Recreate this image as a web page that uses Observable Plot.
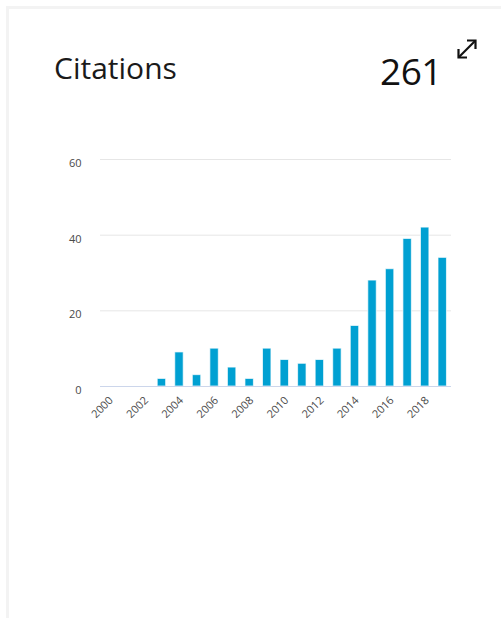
<!DOCTYPE html>
<html>
<head>
<meta charset="utf-8">
<script src="https://cdn.jsdelivr.net/npm/d3@7"></script>
<script src="https://cdn.jsdelivr.net/npm/@observablehq/plot@0.6"></script>
<style>
  html, body { margin: 0; padding: 0; background: #ffffff; }
  body { width: 501px; height: 618px; position: relative; overflow: hidden; font-family: "Open Sans", "Noto Sans", sans-serif; }
  .card { position: absolute; left: 6px; top: 6px; width: 520px; height: 640px; border-left: 3px solid #f3f3f3; border-top: 3px solid #f3f3f3; background: #fff; }
  .title { position: absolute; left: 54px; top: 48px; font-size: 30px; color: #1a1a1a; line-height: 40px; }
  .total { position: absolute; left: 380px; top: 47px; font-size: 37px; color: #111; line-height: 48px; letter-spacing: -0.5px; }
  .expand { position: absolute; left: 455px; top: 37px; }
  #chart { position: absolute; left: 0; top: 0; }
</style>
</head>
<body>
<div class="card"></div>
<div class="title">Citations</div>
<div class="total" id="total"></div>
<svg class="expand" width="24" height="24" viewBox="0 0 24 24" fill="none" stroke="#111" stroke-width="2.2">
  <path d="M4 20 L20 4"/>
  <path d="M12 3.5 H20.5 V12"/>
  <path d="M3.5 12 V20.5 H12"/>
</svg>
<div id="chart"></div>
<script>
// Citations received per year
const years = [2000, 2001, 2002, 2003, 2004, 2005, 2006, 2007, 2008, 2009,
               2010, 2011, 2012, 2013, 2014, 2015, 2016, 2017, 2018, 2019];
const citations = [0, 0, 0, 2, 9, 3, 10, 5, 2, 10,
                   7, 6, 7, 10, 16, 28, 31, 39, 42, 34];
const yTicks = [0, 20, 40, 60];
const xTickYears = [2000, 2002, 2004, 2006, 2008, 2010, 2012, 2014, 2016, 2018];

const rows = years.map((year, i) => ({year, count: citations[i]}));

document.getElementById("total").textContent = d3.sum(citations);

const chart = Plot.plot({
  width: 501,
  height: 440,
  marginTop: 159,
  marginBottom: 54,
  marginLeft: 100,
  marginRight: 50,
  style: {fontFamily: "'Open Sans', 'Noto Sans', sans-serif", fontSize: "11px", color: "#4a4a4a", background: "transparent"},
  x: {type: "band", domain: years, paddingInner: 0.52, paddingOuter: 0.26, round: false},
  y: {domain: [0, 60]},
  marks: [
    Plot.gridY(yTicks.filter(d => d > 0), {stroke: "#e6e6e6", strokeOpacity: 1}),
    Plot.barY(rows, {x: "year", y: "count", fill: "#00a0d2", stroke: "#ffffff", strokeWidth: 1, strokeOpacity: 0.7}),
    Plot.ruleY([0], {stroke: "#ccd6eb", strokeWidth: 1}),
    Plot.axisY({ticks: yTicks, tickSize: 0, tickPadding: 19, dy: 4, label: null}),
    Plot.axisX({ticks: xTickYears, tickSize: 0, tickPadding: 12, dx: 2, tickRotate: -45, label: null, tickFormat: d => String(d)})
  ]
});
document.getElementById("chart").appendChild(chart);
</script>
</body>
</html>
